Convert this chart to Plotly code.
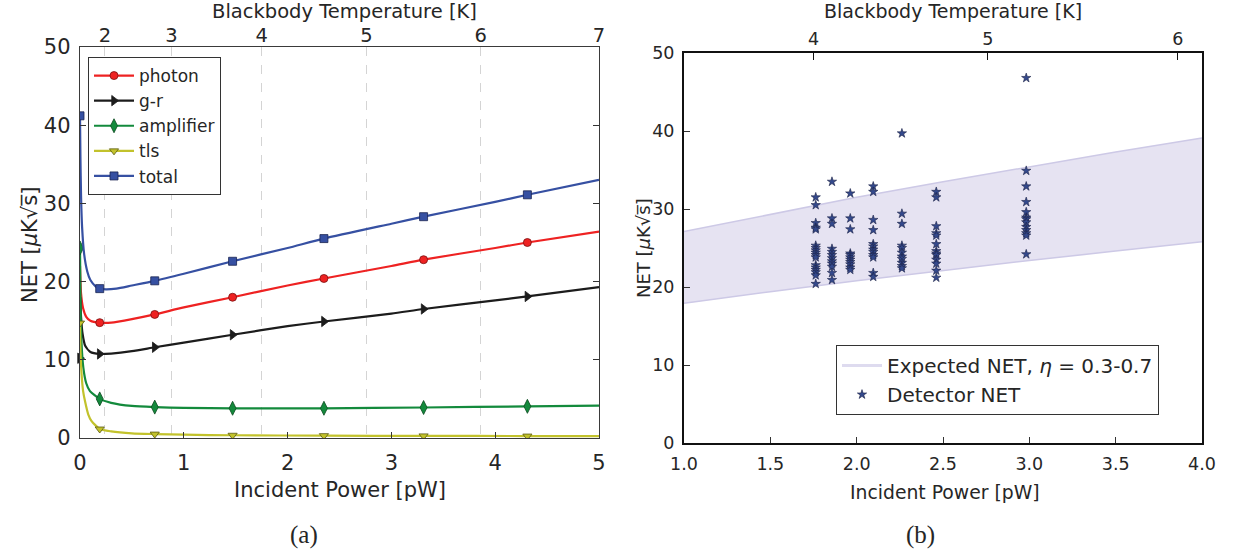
import plotly.graph_objects as go

# ---------------- panel (a): NET contributions vs incident power ----------------
# dense samples of each curve (pW, uK*sqrt(s))
p_photon = [0.0, 0.01, 0.03, 0.06, 0.10, 0.19, 0.30, 0.50, 0.72, 1.00, 1.47, 2.00, 2.35, 3.00, 3.31, 4.00, 4.31, 5.00]
net_photon = [22.0, 18.5, 16.6, 15.5, 15.0, 14.75, 14.75, 15.2, 15.8, 16.7, 18.0, 19.5, 20.4, 22.0, 22.8, 24.3, 25.0, 26.4]

p_gr = [0.003, 0.01, 0.025, 0.05, 0.10, 0.19, 0.30, 0.50, 0.72, 1.00, 1.47, 2.00, 2.35, 3.00, 3.31, 4.00, 4.31, 5.00]
net_gr = [18.0, 15.5, 13.3, 11.8, 11.0, 10.75, 10.8, 11.1, 11.6, 12.2, 13.2, 14.3, 14.9, 15.9, 16.5, 17.6, 18.1, 19.3]

p_amp = [0.0, 0.005, 0.015, 0.032, 0.06, 0.096, 0.19, 0.30, 0.50, 0.72, 1.00, 1.47, 2.35, 3.31, 4.31, 5.00]
net_amp = [24.3, 17.0, 12.0, 9.0, 7.0, 6.0, 5.0, 4.5, 4.1, 3.95, 3.85, 3.8, 3.8, 3.9, 4.05, 4.15]

p_tls = [0.0, 0.005, 0.016, 0.03, 0.05, 0.08, 0.11, 0.19, 0.30, 0.50, 0.72, 1.00, 1.47, 2.35, 3.31, 4.31, 5.00]
net_tls = [14.7, 11.0, 8.0, 6.0, 4.6, 3.0, 2.2, 1.15, 0.85, 0.6, 0.5, 0.42, 0.35, 0.3, 0.27, 0.25, 0.23]

p_total = [0.0, 0.004, 0.01, 0.02, 0.04, 0.07, 0.10, 0.15, 0.19, 0.25, 0.35, 0.50, 0.72, 1.00, 1.47, 2.00, 2.35, 3.00, 3.31, 4.00, 4.31, 5.00]
net_total = [41.2, 36.0, 31.0, 27.0, 23.5, 21.3, 20.2, 19.4, 19.1, 19.0, 19.1, 19.5, 20.1, 21.0, 22.6, 24.3, 25.5, 27.4, 28.3, 30.2, 31.1, 33.0]

# marker positions along each curve
p_marks = [0.0, 0.19, 0.72, 1.47, 2.35, 3.31, 4.31]
mk_photon = [None, 14.75, 15.8, 18.0, 20.4, 22.8, 25.0]
mk_gr = [10.2, 10.75, 11.6, 13.2, 14.9, 16.5, 18.1]
mk_amp = [24.3, 5.0, 3.95, 3.8, 3.8, 3.9, 4.05]
mk_tls = [14.7, 1.15, 0.5, 0.35, 0.3, 0.27, 0.25]
mk_total = [41.2, 19.1, 20.1, 22.6, 25.5, 28.3, 31.1]

# blackbody temperature scale shown on the top axes
temp_labels = ["2", "3", "4", "5", "6", "7"]
temp_power = [0.24, 0.88, 1.75, 2.76, 3.86, 5.0]

# ---------------- panel (b): measured detector NET ----------------
det_power = [1.763, 1.857, 1.963, 2.096, 2.262, 2.461, 2.982]
det_net = [
    [31.5, 30.5, 28.2, 27.6, 27.4, 25.3, 25.0, 24.7, 24.4, 24.1, 23.8, 22.8, 22.5, 22.2, 21.9, 21.5, 20.4],
    [33.5, 28.8, 28.1, 24.9, 24.5, 24.1, 23.7, 23.3, 23.0, 22.6, 21.8, 20.9],
    [32.0, 28.8, 27.4, 24.3, 24.1, 23.8, 23.5, 23.2, 22.9, 22.5, 22.2],
    [32.9, 32.2, 28.6, 27.3, 25.5, 25.2, 24.8, 24.5, 24.1, 23.8, 21.8, 21.3],
    [39.7, 29.4, 28.1, 25.3, 25.0, 24.4, 23.9, 23.6, 23.1, 22.7, 22.4],
    [32.2, 31.5, 27.8, 26.9, 26.6, 25.5, 24.6, 24.3, 24.1, 23.5, 23.0, 22.1, 21.2],
    [46.8, 34.9, 32.9, 30.9, 29.6, 28.9, 28.7, 28.3, 27.7, 27.3, 26.9, 26.6, 24.2],
]

# expected NET band for optical efficiency 0.3-0.7
band_power = [1.0, 1.5, 2.0, 2.5, 3.0, 3.5, 4.0]
band_upper = [27.1, 29.3, 31.5, 33.5, 35.4, 37.3, 39.1]
band_lower = [17.9, 19.4, 20.8, 22.1, 23.4, 24.6, 25.8]

TXT = "#262626"
FONT = "DejaVu Sans"

fig = go.Figure()

series = [
    ("photon", p_photon, net_photon, mk_photon, "#ee2222", "circle", 8, "#7a1010"),
    ("g-r", p_gr, net_gr, mk_gr, "#1c1c1c", "triangle-right", 9, "#1c1c1c"),
    ("amplifier", p_amp, net_amp, mk_amp, "#138a3c", "diamond-tall", 10, "#0c4a20"),
    ("tls", p_tls, net_tls, mk_tls, "#c2c22c", "triangle-down", 8, "#5a5a10"),
    ("total", p_total, net_total, mk_total, "#3650a2", "square", 8, "#1a2550"),
]

for name, px, py, my, col, sym, size, edge in series:
    fig.add_trace(go.Scatter(
        x=px, y=py, mode="lines", line=dict(color=col, width=2.2, shape="spline", smoothing=0.6),
        showlegend=False, hoverinfo="skip", xaxis="x", yaxis="y"))
    fig.add_trace(go.Scatter(
        x=p_marks, y=my, mode="markers",
        marker=dict(symbol=sym, size=size, color=col, line=dict(color=edge, width=0.8)),
        showlegend=False, xaxis="x", yaxis="y", cliponaxis=(name != "g-r")))
    fig.add_trace(go.Scatter(
        x=[None], y=[None], mode="lines+markers", name=name,
        line=dict(color=col, width=2.2),
        marker=dict(symbol=sym, size=size, color=col, line=dict(color=edge, width=0.8)),
        xaxis="x", yaxis="y", legend="legend"))

# invisible traces that carry the top temperature axes
fig.add_trace(go.Scatter(x=[0, 5], y=[None, None], mode="markers", showlegend=False,
                         hoverinfo="skip", xaxis="x2", yaxis="y"))

# panel (b): band
fig.add_trace(go.Scatter(
    x=band_power, y=band_lower, mode="lines", line=dict(color="#cdc9e6", width=1.5),
    showlegend=False, hoverinfo="skip", xaxis="x3", yaxis="y3"))
fig.add_trace(go.Scatter(
    x=band_power, y=band_upper, mode="lines", line=dict(color="#cdc9e6", width=1.5),
    fill="tonexty", fillcolor="rgba(221,217,238,0.75)",
    showlegend=False, hoverinfo="skip", xaxis="x3", yaxis="y3"))
fig.add_trace(go.Scatter(
    x=[None], y=[None], mode="lines", name="Expected NET, <i>η</i> = 0.3-0.7",
    line=dict(color="#dedbef", width=3), xaxis="x3", yaxis="y3", legend="legend2"))

star_x = [p for p, col in zip(det_power, det_net) for _ in col]
star_y = [v for col in det_net for v in col]
star_marker = dict(symbol="star", size=7, color="#34498c", line=dict(color="#1b2247", width=0.6))
fig.add_trace(go.Scatter(
    x=star_x, y=star_y, mode="markers", marker=star_marker,
    showlegend=False, xaxis="x3", yaxis="y3"))
fig.add_trace(go.Scatter(
    x=[None], y=[None], mode="markers", name="Detector NET",
    marker=dict(symbol="star", size=7, color="#34498c", line=dict(color="#1b2247", width=0.6)),
    xaxis="x3", yaxis="y3", legend="legend2"))
fig.add_trace(go.Scatter(x=[1, 4], y=[None, None], mode="markers", showlegend=False,
                         hoverinfo="skip", xaxis="x4", yaxis="y3"))

left_dom = [80 / 1234, 599 / 1234]
left_ydom = [1 - 438 / 558, 1 - 47 / 558]
right_dom = [684 / 1234, 1202 / 1234]
right_ydom = [1 - 443 / 558, 1 - 53 / 558]

axis_common = dict(zeroline=False, showgrid=False, ticks="inside",
                   tickcolor="#333333", automargin=False)

fig.update_layout(
    width=1234, height=558,
    margin=dict(l=0, r=0, t=0, b=0, autoexpand=False),
    paper_bgcolor="white", plot_bgcolor="white",
    font=dict(family=FONT, color=TXT),
    xaxis=dict(domain=left_dom, anchor="y", range=[0, 5], tickvals=[0, 1, 2, 3, 4, 5],
               ticklen=6, showline=True, mirror=True, linecolor="#3a3a3a", linewidth=1.4,
               tickfont=dict(size=21), ticklabelstandoff=6, **axis_common),
    xaxis2=dict(overlaying="x", side="top", anchor="y", range=[0, 5],
                tickvals=temp_power, ticktext=temp_labels, ticks="", showline=False,
                showgrid=True, gridcolor="#d4d4d4", griddash="dash", gridwidth=1.2,
                zeroline=False, tickfont=dict(size=19.5), ticklabelstandoff=0, automargin=False),
    yaxis=dict(domain=left_ydom, anchor="x", range=[0, 50], tickvals=[0, 10, 20, 30, 40, 50],
               ticklen=6, showline=True, mirror="ticks", linecolor="#3a3a3a", linewidth=1.4,
               tickfont=dict(size=21), ticklabelstandoff=4, **axis_common),
    xaxis3=dict(domain=right_dom, anchor="y3", range=[1, 4], tickvals=[1, 1.5, 2, 2.5, 3, 3.5, 4],
                tickformat=".1f", ticklen=6, showline=True, mirror=True, linecolor="#111111",
                linewidth=2, tickfont=dict(size=17.5), ticklabelstandoff=4, **axis_common),
    xaxis4=dict(overlaying="x3", side="top", anchor="y3", range=[1, 4],
                tickvals=temp_power[2:5], ticktext=temp_labels[2:5], ticks="inside", ticklen=7,
                tickcolor="#111111", showline=False, showgrid=False, zeroline=False,
                tickfont=dict(size=17.5), ticklabelstandoff=4, automargin=False),
    yaxis3=dict(domain=right_ydom, anchor="x3", range=[0, 50], tickvals=[0, 10, 20, 30, 40, 50],
                ticklen=6, showline=True, mirror=True, linecolor="#111111", linewidth=2,
                tickfont=dict(size=17.5), ticklabelstandoff=4, **axis_common),
    legend=dict(x=88 / 1234, y=1 - 57 / 558, xanchor="left", yanchor="top",
                bgcolor="white", bordercolor="#333333", borderwidth=1, traceorder="normal",
                font=dict(size=17, color=TXT), tracegroupgap=0, itemwidth=40),
    legend2=dict(x=836 / 1234, y=1 - 345 / 558, xanchor="left", yanchor="top",
                 bgcolor="white", bordercolor="#333333", borderwidth=1, traceorder="normal",
                 font=dict(size=20, color=TXT), itemwidth=40),
)

annotations = [
    dict(text="Blackbody Temperature [K]", x=344 / 1234, y=1 - 11 / 558, font=dict(size=19.5)),
    dict(text="Incident Power [pW]", x=340 / 1234, y=1 - 490 / 558, font=dict(size=21)),
    dict(text="NET [<i>μ</i>K√s̅]", x=30 / 1234, y=1 - 245 / 558, font=dict(size=21), textangle=-90),
    dict(text="(a)", x=304 / 1234, y=1 - 535 / 558, font=dict(size=25, family="Liberation Serif")),
    dict(text="Blackbody Temperature [K]", x=953 / 1234, y=1 - 11 / 558, font=dict(size=19)),
    dict(text="Incident Power [pW]", x=945 / 1234, y=1 - 492 / 558, font=dict(size=18.8)),
    dict(text="NET [<i>μ</i>K√s̅]", x=643 / 1234, y=1 - 248 / 558, font=dict(size=18), textangle=-90),
    dict(text="(b)", x=920 / 1234, y=1 - 535 / 558, font=dict(size=25, family="Liberation Serif")),
]
for a in annotations:
    fig.add_annotation(xref="paper", yref="paper", showarrow=False,
                       xanchor="center", yanchor="middle", **a)

fig.write_html("out.html")
